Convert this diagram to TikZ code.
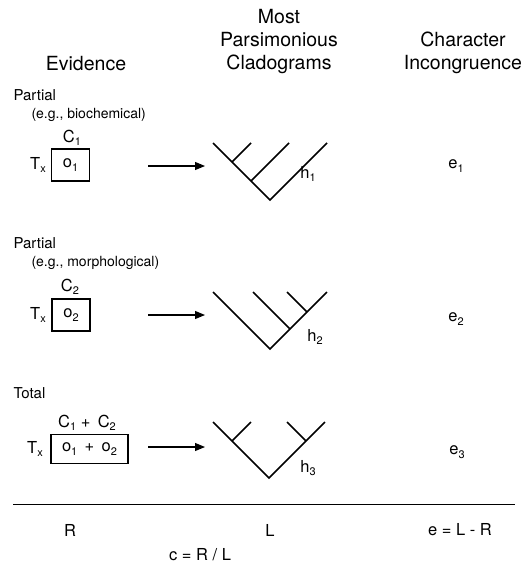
\documentclass[tikz,border=0pt]{standalone}
\usepackage{fontspec}
\setmainfont{TeX Gyre Heros}
\usetikzlibrary{arrows.meta}
\newcommand{\lowidx}[1]{\raisebox{-0.4ex}{\fontsize{11}{11}\selectfont #1}}

\tikzset{
  head/.style={font=\fontsize{19.5}{23}\selectfont, align=center},
  rowlab/.style={font=\fontsize{15}{18}\selectfont, anchor=west},
  note/.style={font=\fontsize{14}{16}\selectfont, anchor=west},
  txt/.style={font=\fontsize{16.5}{19}\selectfont},
  evbox/.style={draw, line width=1.3pt, minimum width=38pt, minimum height=32pt, inner sep=0pt, font=\fontsize{16.5}{19}\selectfont},
  clado/.style={line width=1.7pt},
  evarrow/.style={-{Triangle[length=10pt,width=8pt]}, line width=1.1pt}
}

\begin{document}
\begin{tikzpicture}[x=1pt, y=-1pt]
  \useasboundingbox (0,0) rectangle (527,565);

  % column heads
  \node[head] (hev) at (86,64) {Evidence};
  \node[head] (hmpc) at (279,42) {Most\\Parsimonious\\Cladograms};
  \node[head] (hci) at (463,53) {Character\\Incongruence};

  % partial, biochemical
  \node[rowlab] (p1) at (10,95) {Partial};
  \node[note] (g1) at (28,115) {(e.g., biochemical)};
  \node[evbox] (b1) at (70.5,165) {o\lowidx{1}};
  \node[txt] (c1) at (72,138) {C\lowidx{1}};
  \node[txt] (tx1) at (38,165) {T\lowidx{x}};
  \coordinate (a1s) at (148,166);
  \coordinate (a1e) at (205,166);
  \draw[evarrow] (a1s) -- (a1e);

  \coordinate (r1) at (270,200);
  \coordinate (l1) at (213,143);
  \coordinate (t1) at (327,143);
  \coordinate (n1a) at (232,162);
  \coordinate (u1a) at (251,143);
  \coordinate (n1b) at (251,181);
  \coordinate (u1b) at (289,143);
  \draw[clado] (l1) -- (r1) -- (t1);
  \draw[clado] (n1a) -- (u1a);
  \draw[clado] (n1b) -- (u1b);
  \node[txt] (h1) at (308,174) {h\lowidx{1}};
  \node[txt] (e1) at (456,166) {e\lowidx{1}};

  % partial, morphological
  \node[rowlab] (p2) at (10,243) {Partial};
  \node[note] (g2) at (28,263) {(e.g., morphological)};
  \node[evbox] (b2) at (71,315) {o\lowidx{2}};
  \node[txt] (c2) at (70,287) {C\lowidx{2}};
  \node[txt] (tx2) at (38,315) {T\lowidx{x}};
  \coordinate (a2s) at (148,315);
  \coordinate (a2e) at (205,315);
  \draw[evarrow] (a2s) -- (a2e);

  \coordinate (r2) at (270,349);
  \coordinate (l2) at (213,292);
  \coordinate (t2) at (327,292);
  \coordinate (n2a) at (290,329);
  \coordinate (u2a) at (253,292);
  \coordinate (n2b) at (307,312);
  \coordinate (u2b) at (287,292);
  \draw[clado] (l2) -- (r2) -- (t2);
  \draw[clado] (n2a) -- (u2a);
  \draw[clado] (n2b) -- (u2b);
  \node[txt] (h2) at (315,337) {h\lowidx{2}};
  \node[txt] (e2) at (456,319) {e\lowidx{2}};

  % total
  \node[rowlab] (p3) at (10,393) {Total};
  \node[evbox, minimum width=77pt, minimum height=29pt] (b3) at (89.5,449) {o\lowidx{1} \,+\, o\lowidx{2}};
  \node[txt] (c3) at (87,423) {C\lowidx{1} + \,C\lowidx{2}};
  \node[txt] (tx3) at (35,449) {T\lowidx{x}};
  \coordinate (a3s) at (148,447);
  \coordinate (a3e) at (205,447);
  \draw[evarrow] (a3s) -- (a3e);

  \coordinate (r3) at (269,478);
  \coordinate (l3) at (213,422);
  \coordinate (t3) at (325,422);
  \coordinate (n3a) at (232,441);
  \coordinate (u3a) at (251,422);
  \coordinate (n3b) at (306,441);
  \coordinate (u3b) at (287,422);
  \draw[clado] (l3) -- (r3) -- (t3);
  \draw[clado] (n3a) -- (u3a);
  \draw[clado] (n3b) -- (u3b);
  \node[txt] (h3) at (308,468) {h\lowidx{3}};
  \node[txt] (e3) at (457,452) {e\lowidx{3}};

  % totals
  \coordinate (rl) at (13,504);
  \coordinate (rr) at (515,504);
  \draw[line width=0.9pt] (rl) -- (rr);
  \node[txt] (sr) at (70,530) {R};
  \node[txt] (sl) at (270,530) {L};
  \node[txt] (se) at (460,530) {e = L - R};
  \node[txt] (sc) at (200,555) {c = R / L};
\end{tikzpicture}
\end{document}
